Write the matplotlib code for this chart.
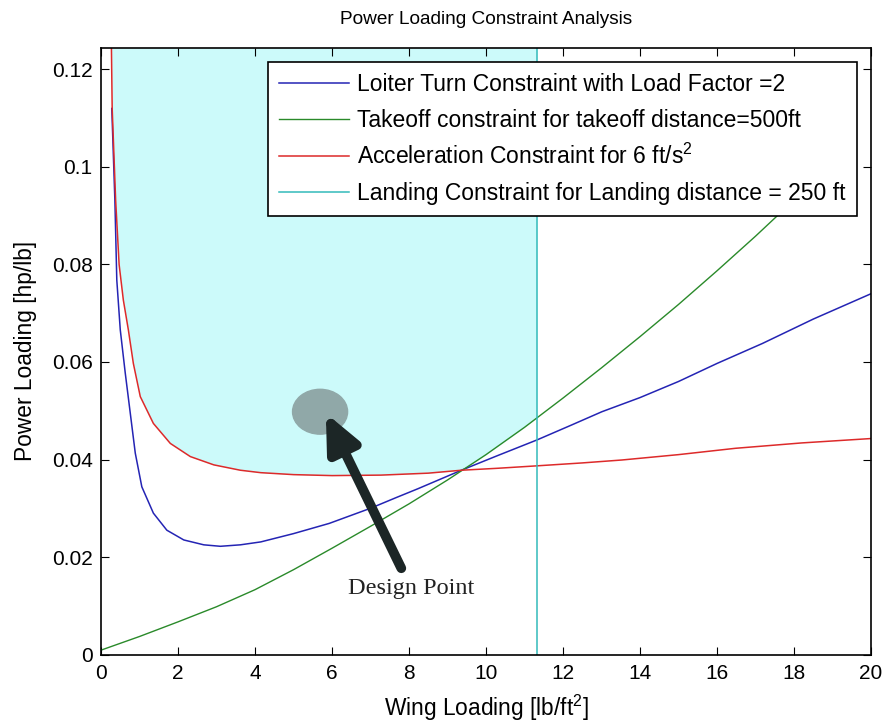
import matplotlib
matplotlib.use("Agg")
import matplotlib.pyplot as plt
from matplotlib.patches import Ellipse
import numpy as np

plt.rcParams['font.family'] = ['Liberation Sans', 'DejaVu Sans']
plt.rcParams['mathtext.default'] = 'regular'

# values
loiter_x = [0.28, 0.36, 0.41, 0.50, 0.63, 0.76, 0.89, 1.06, 1.36, 1.71, 2.15, 2.67,
            3.1, 3.62, 4.15, 5.0, 5.93, 7.0, 7.67, 8.23, 9.36, 10.3, 11.32, 12.2,
            13.01, 14.0, 15.0, 16.0, 17.18, 18.5, 20.0]
loiter_y = [0.112, 0.0932, 0.0768, 0.0666, 0.0577, 0.0495, 0.0413, 0.0344, 0.0290,
            0.0255, 0.0235, 0.0225, 0.0222, 0.0225, 0.0231, 0.0248, 0.0269, 0.0300,
            0.0322, 0.0340, 0.0378, 0.0408, 0.0440, 0.0470, 0.0498, 0.0527, 0.0560,
            0.0597, 0.0638, 0.0688, 0.0740]

takeoff_x = [0, 1, 2, 3, 4, 5, 6, 7, 8, 9, 10, 11, 12, 13, 14, 15, 16, 17, 18, 19]
takeoff_y = [0.0009, 0.0037, 0.0067, 0.0098, 0.0133, 0.0174, 0.0218, 0.0263, 0.0309,
             0.0358, 0.0410, 0.0466, 0.0526, 0.0588, 0.0652, 0.0718, 0.0787, 0.0858,
             0.0932, 0.1008]

accel_x = [0.27, 0.29, 0.38, 0.47, 0.58, 0.71, 0.84, 1.02, 1.36, 1.80, 2.32, 2.93,
           3.62, 4.15, 5.0, 6.0, 7.27, 8.5, 9.36, 10.3, 11.32, 12.5, 13.53, 15.0,
           16.48, 18.2, 20.0]
accel_y = [0.1247, 0.112, 0.0932, 0.0800, 0.0727, 0.0666, 0.0597, 0.0529, 0.0474,
           0.0433, 0.0406, 0.0389, 0.0378, 0.0373, 0.0369, 0.0367, 0.0368, 0.0372,
           0.0378, 0.0382, 0.0387, 0.0393, 0.0399, 0.0410, 0.0423, 0.0434, 0.0443]

landing_ws = 11.32
design_pt = (5.69, 0.0498)

labels = ["Loiter Turn Constraint with Load Factor =2",
          "Takeoff constraint for takeoff distance=500ft",
          "Acceleration Constraint for 6 ft/s$^2$",
          "Landing Constraint for Landing distance = 250 ft"]

ytop = 0.1244

fig = plt.figure(figsize=(8.83, 7.23), dpi=100)
ax = fig.add_axes([0.1144, 0.0947, 0.8720, 0.8389])

# feasible region: above all curves, left of landing line
xg = np.linspace(accel_x[0], landing_ws, 400)
lower = np.maximum.reduce([np.interp(xg, accel_x, accel_y),
                           np.interp(xg, takeoff_x, takeoff_y),
                           np.interp(xg, loiter_x, loiter_y)])
ax.fill_between(xg, lower, ytop, color='#ccfafa', lw=0, zorder=0)

ax.plot(loiter_x, loiter_y, color='#2424b4', lw=1.1, label=labels[0])
ax.plot(takeoff_x, takeoff_y, color='#2a8a2a', lw=1.0, label=labels[1])
ax.plot(accel_x, accel_y, color='#dd2a2a', lw=1.1, label=labels[2])
ax.plot([landing_ws, landing_ws], [0, ytop], color='#33baba', lw=1.1, label=labels[3])

ax.add_patch(Ellipse(design_pt, 1.43, 0.0092, color='#90a8a8', zorder=3))
ax.annotate("", xy=(5.84, 0.0495), xytext=(7.8, 0.0177),
            arrowprops=dict(arrowstyle="-|>,head_length=2.2,head_width=1.0",
                            color='#1c2626', lw=7, shrinkA=0, shrinkB=0), zorder=4)
ax.text(8.06, 0.0136, "Design Point", family='Liberation Serif', fontsize=17.5,
        ha='center', va='center', color='#222222')

ax.set_xlim(0, 20)
ax.set_ylim(0, ytop)
ax.set_xticks(np.arange(0, 21, 2))
ax.set_yticks([0, 0.02, 0.04, 0.06, 0.08, 0.1, 0.12])
ax.set_yticklabels(['0', '0.02', '0.04', '0.06', '0.08', '0.1', '0.12'])
ax.tick_params(direction='in', top=True, right=True, labelsize=15, length=6)
ax.tick_params(axis='x', pad=7)
ax.tick_params(axis='y', pad=6)
for s in ax.spines.values():
    s.set_linewidth(1.2)

ax.set_title("Power Loading Constraint Analysis", fontsize=13.7, pad=17)
ax.set_xlabel("Wing Loading [lb/ft$^2$]", fontsize=16.4, labelpad=7)
ax.set_ylabel("Power Loading [hp/lb]", fontsize=16.4, labelpad=11)

leg = ax.legend(loc='upper right', fontsize=16.5, fancybox=False, framealpha=1,
                edgecolor='black', borderaxespad=0.6, borderpad=0.5,
                handlelength=3.05, handletextpad=0.35, labelspacing=0.54)
leg.get_frame().set_linewidth(1.2)

fig.savefig("out.png", dpi=100)
